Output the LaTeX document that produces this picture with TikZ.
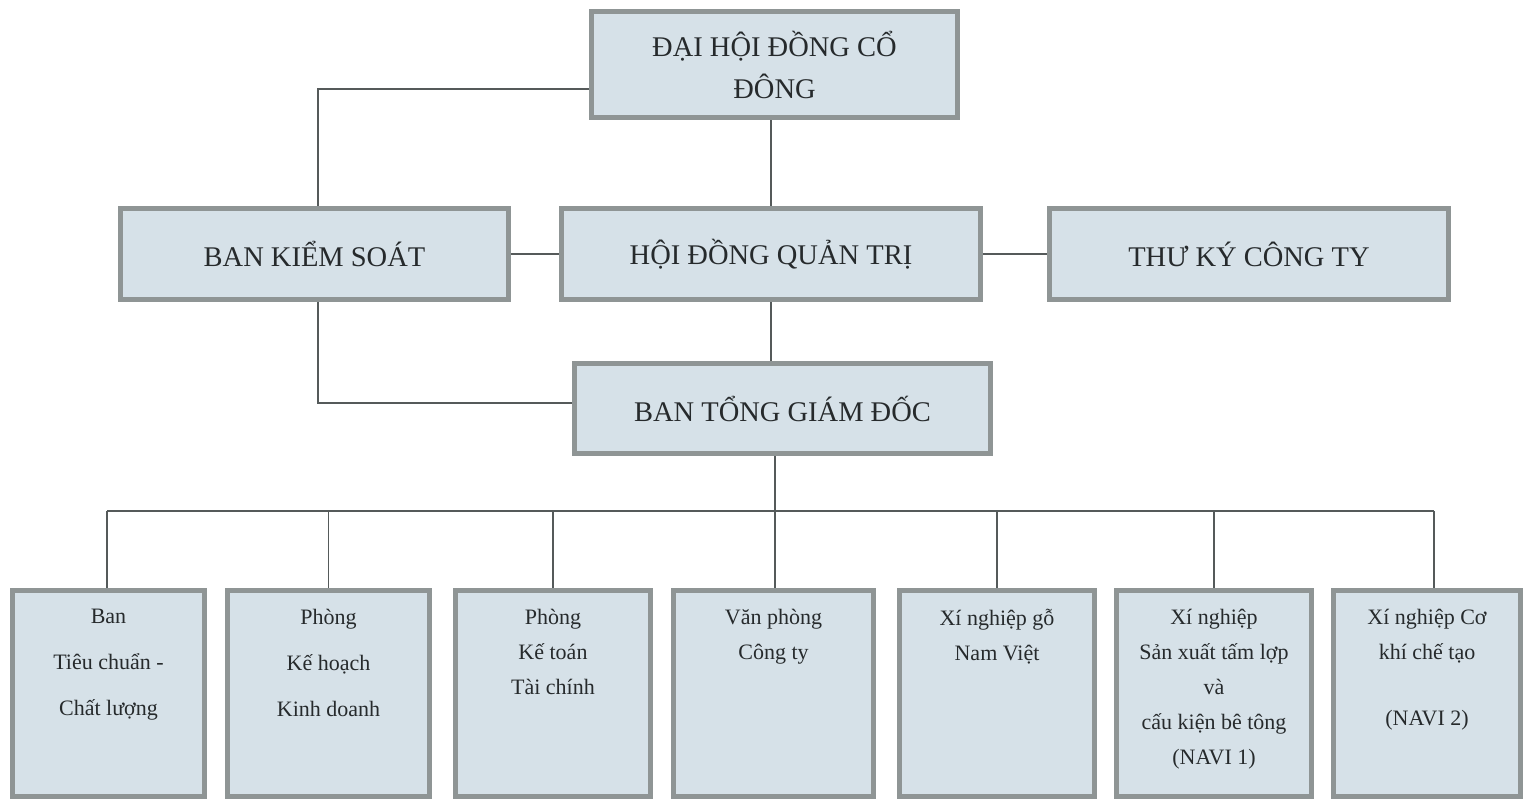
\documentclass[tikz,border=0pt]{standalone}
\usepackage{fontspec}
\setmainfont{Liberation Serif}
\definecolor{boxfill}{HTML}{D6E1E8}
\definecolor{boxline}{HTML}{8F9595}
\definecolor{wire}{HTML}{555A5A}
\definecolor{ink}{HTML}{262A2C}
\begin{document}
\begin{tikzpicture}[x=1pt,y=-1pt,
  orgbox/.style={draw=boxline,fill=boxfill,line width=5pt,inner sep=0pt,
    text=ink,align=center,font=\fontsize{28.5}{42}\selectfont},
  unitbox/.style={draw=boxline,fill=boxfill,line width=5pt,inner sep=0pt,
    text=ink,minimum height=206pt,font=\fontsize{22}{35}\selectfont},
  link/.style={draw=wire,line width=1.6pt}]
\useasboundingbox (0,0) rectangle (1525,800);
\fill[white] (0,0) rectangle (1525,800);

\node[orgbox,minimum width=366pt,minimum height=106pt] (dhdcd) at (774.5,64.5) {ĐẠI HỘI ĐỒNG CỔ\\ĐÔNG};
\node[orgbox,minimum width=388pt,minimum height=91pt] (bks) at (314.5,254) {BAN KIỂM SOÁT};
\node[orgbox,minimum width=419pt,minimum height=91pt] (hdqt) at (771,254) {HỘI ĐỒNG QUẢN TRỊ};
\node[orgbox,minimum width=399pt,minimum height=91pt] (tk) at (1249,254) {THƯ KÝ CÔNG TY};
\node[orgbox,minimum width=416pt,minimum height=90pt] (tgd) at (782.5,408.5) {BAN TỔNG GIÁM ĐỐC};

\node[unitbox,minimum width=192pt] (u1) at (108.5,693.5)
  {\parbox[c][200pt][t]{190pt}{\centering\vspace{16pt}\fontsize{22}{46}\selectfont Ban\\Tiêu chuẩn -\\Chất lượng}};
\node[unitbox,minimum width=202pt] (u2) at (328.5,693.5)
  {\parbox[c][200pt][t]{200pt}{\centering\vspace{16pt}\fontsize{22}{46}\selectfont Phòng\\Kế hoạch\\Kinh doanh}};
\node[unitbox,minimum width=195pt] (u3) at (553,693.5)
  {\parbox[c][200pt][t]{193pt}{\centering\vspace{16pt}Phòng\\Kế toán\\Tài chính}};
\node[unitbox,minimum width=200pt] (u4) at (773.5,693.5)
  {\parbox[c][200pt][t]{198pt}{\centering\vspace{16pt}Văn phòng\\Công ty}};
\node[unitbox,minimum width=195pt] (u5) at (997,693.5)
  {\parbox[c][200pt][t]{193pt}{\centering\vspace{16pt}Xí nghiệp gỗ\\Nam Việt}};
\node[unitbox,minimum width=195pt] (u6) at (1214,693.5)
  {\parbox[c][200pt][t]{193pt}{\centering\vspace{16pt}Xí nghiệp\\Sản xuất tấm lợp\\và\\cấu kiện bê tông\\(NAVI 1)}};
\node[unitbox,minimum width=187pt] (u7) at (1427,693.5)
  {\parbox[c][200pt][t]{185pt}{\centering\vspace{16pt}Xí nghiệp Cơ\\khí chế tạo\\[31pt](NAVI 2)}};

\coordinate (k1) at (318,89);
\coordinate (k2) at (318,403);
\coordinate (bus) at (0,511);

\draw[link] (dhdcd.west |- k1) -- (k1) -- (k1 |- bks.north);
\draw[link] (k1 |- bks.south) -- (k2) -- (k2 -| tgd.west);
\draw[link] (bks.east) -- (hdqt.west);
\draw[link] (hdqt.east) -- (tk.west);
\draw[link] (dhdcd.south -| hdqt.north) -- (hdqt.north);
\draw[link] (hdqt.south) -- (hdqt.south |- tgd.north);
\draw[link] (tgd.south -| 775,0) -- (775,511);
\draw[link] (107,511) -- (1434,511);
\draw[link] (107,511) -- (u1.north -| 107,0);
\draw[link] (u2.north |- bus) -- (u2.north);
\draw[link] (u3.north |- bus) -- (u3.north);
\draw[link] (775,511) -- (u4.north -| 775,0);
\draw[link] (u5.north |- bus) -- (u5.north);
\draw[link] (u6.north |- bus) -- (u6.north);
\draw[link] (1434,511) -- (u7.north -| 1434,0);
\end{tikzpicture}
\end{document}
